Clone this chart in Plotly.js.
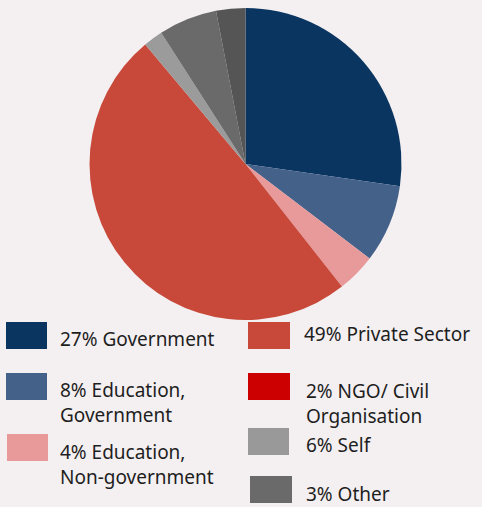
<!DOCTYPE html>
<html>
<head>
<meta charset="utf-8">
<script src="https://cdn.plot.ly/plotly-3.0.1.min.js"></script>
<style>html,body{margin:0;padding:0;background:#f4f0f1;}#chart{width:482px;height:507px;}</style>
</head>
<body>
<div id="chart"></div>
<script>
// Data
var labels = ["Government", "Education, Government", "Education, Non-government", "Private Sector", "NGO/ Civil Organisation", "Self", "Other"];
var values = [27, 8, 4, 49, 2, 6, 3];
var pieColors = ["#0a3561", "#44618a", "#e89a9a", "#c8493a", "#9b9b9b", "#6a6a6a", "#555555"];
var legendColors = ["#0a3561", "#44618a", "#e89a9a", "#c8493a", "#cc0000", "#999999", "#6a6a6a"];
var legendTexts = ["27% Government", "8% Education,<br>Government", "4% Education,<br>Non-government", "49% Private Sector", "2% NGO/ Civil<br>Organisation", "6% Self", "3% Other"];

// Legend layout (pixel positions)
var W = 482, H = 507;
var boxes = [
  [6, 322, 47, 349], [6, 373, 47, 400], [7, 434, 48, 461],
  [248, 322, 290, 349], [248, 373, 290, 400], [248, 428, 289, 455], [250, 476, 292, 503]
];
var textPos = [
  [58, 339], [58, 402], [58, 464],
  [302, 334], [304, 403], [304, 445], [304, 494]
];

var shapes = [], annotations = [];
for (var i = 0; i < legendTexts.length; i++) {
  var b = boxes[i];
  shapes.push({type: "rect", xref: "paper", yref: "paper",
    x0: b[0] / W, x1: b[2] / W, y0: 1 - b[3] / H, y1: 1 - b[1] / H,
    fillcolor: legendColors[i], line: {width: 0}});
  annotations.push({xref: "paper", yref: "paper", x: textPos[i][0] / W, y: 1 - textPos[i][1] / H,
    xanchor: "left", yanchor: "middle", align: "left", showarrow: false,
    text: legendTexts[i], font: {family: "Noto Sans", size: 19, color: "#1e1e1e"}});
}

var cx = 245.5, cy = 164, r = 156;
var trace = {
  type: "pie", labels: labels, values: values, sort: false, direction: "clockwise", rotation: 0,
  marker: {colors: pieColors, line: {width: 0}},
  textinfo: "none", hoverinfo: "label+percent", showlegend: false,
  domain: {x: [(cx - r) / W, (cx + r) / W], y: [1 - (cy + r) / H, 1 - (cy - r) / H]}
};

var layout = {
  width: W, height: H, margin: {l: 0, r: 0, t: 0, b: 0},
  paper_bgcolor: "#f4f0f1", plot_bgcolor: "#f4f0f1",
  showlegend: false, shapes: shapes, annotations: annotations
};
Plotly.newPlot("chart", [trace], layout, {displayModeBar: false, staticPlot: true});
</script>
</body>
</html>
